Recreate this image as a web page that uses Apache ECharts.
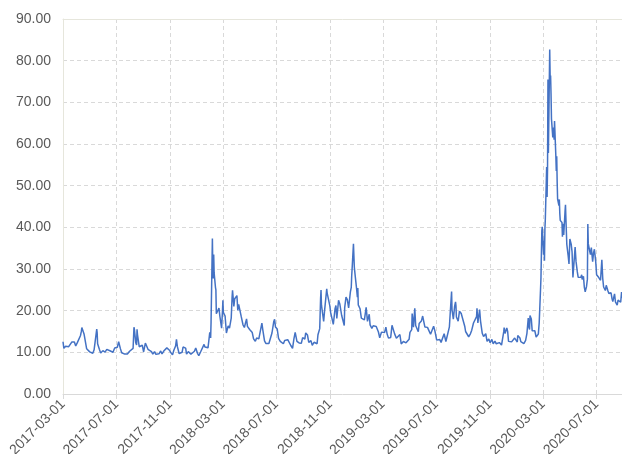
<!DOCTYPE html>
<html>
<head>
<meta charset="utf-8">
<script src="https://cdn.jsdelivr.net/npm/echarts@6/dist/echarts.min.js"></script>
<style>
  html, body { margin: 0; padding: 0; background: #fff; }
  #chart { width: 622px; height: 454px; }
</style>
</head>
<body>
<div id="chart"></div>
<script>
// daily close values (trading days, weekends skipped)
var dates2017 = ['2017-03-01','2017-03-03','2017-03-07','2017-03-10','2017-03-14','2017-03-17','2017-03-21','2017-03-23','2017-03-27','2017-03-30',
  '2017-04-03','2017-04-06','2017-04-10','2017-04-12','2017-04-13','2017-04-18','2017-04-20','2017-04-21','2017-04-24','2017-04-27',
  '2017-05-01','2017-05-04','2017-05-08','2017-05-11','2017-05-15','2017-05-17','2017-05-18','2017-05-19','2017-05-23','2017-05-26','2017-05-31',
  '2017-06-05','2017-06-08','2017-06-09','2017-06-13','2017-06-16','2017-06-20','2017-06-23','2017-06-27','2017-06-29',
  '2017-07-03','2017-07-06','2017-07-10','2017-07-13','2017-07-17','2017-07-20','2017-07-24','2017-07-26','2017-07-31',
  '2017-08-03','2017-08-08','2017-08-09','2017-08-10','2017-08-11','2017-08-14','2017-08-16','2017-08-17','2017-08-18','2017-08-22','2017-08-25','2017-08-29',
  '2017-09-01','2017-09-05','2017-09-08','2017-09-11','2017-09-14','2017-09-19','2017-09-22','2017-09-26','2017-09-29',
  '2017-10-03','2017-10-06','2017-10-10','2017-10-13','2017-10-17','2017-10-20','2017-10-24','2017-10-26','2017-10-30',
  '2017-11-02','2017-11-06','2017-11-09','2017-11-13','2017-11-15','2017-11-17','2017-11-21','2017-11-24','2017-11-28','2017-11-30',
  '2017-12-04','2017-12-06','2017-12-08','2017-12-12','2017-12-14','2017-12-18','2017-12-21','2017-12-26','2017-12-29'];
var vix2017 = [12.54,10.96,11.45,11.66,11.35,11.28,12.47,12.48,12.50,11.54,
  12.38,12.39,14.05,15.07,15.96,14.42,14.15,14.63,10.84,10.36,
  10.11,10.46,9.77,10.60,10.42,15.59,14.66,12.04,10.72,9.81,10.41,
  10.07,10.16,10.70,10.42,10.38,10.86,10.02,11.06,11.44,
  11.22,12.54,10.89,9.90,9.82,9.58,9.43,9.60,10.26,
  9.95,10.96,11.11,16.04,15.51,12.33,11.74,15.55,14.26,11.35,11.28,11.70,
  10.13,12.23,12.12,10.73,10.44,10.18,9.59,10.17,9.51,
  9.51,9.65,10.33,9.61,10.31,10.15,11.07,11.30,10.50,
  9.93,9.40,10.50,11.50,13.13,11.43,9.73,9.67,10.03,11.28,
  11.68,11.02,9.58,10.18,10.49,9.53,9.72,10.25,11.04];

var dates2018 = ['2018-01-02','2018-01-05','2018-01-09','2018-01-12','2018-01-17','2018-01-19','2018-01-23','2018-01-26','2018-01-29','2018-01-30',
  '2018-02-01','2018-02-02','2018-02-05','2018-02-06','2018-02-07','2018-02-08','2018-02-09','2018-02-12','2018-02-13','2018-02-14','2018-02-16','2018-02-20','2018-02-22','2018-02-26','2018-02-28',
  '2018-03-01','2018-03-02','2018-03-06','2018-03-09','2018-03-13','2018-03-16','2018-03-20','2018-03-22','2018-03-23','2018-03-26','2018-03-28',
  '2018-04-02','2018-04-04','2018-04-06','2018-04-09','2018-04-12','2018-04-16','2018-04-19','2018-04-24','2018-04-26',
  '2018-05-01','2018-05-03','2018-05-07','2018-05-10','2018-05-14','2018-05-17','2018-05-22','2018-05-25','2018-05-29','2018-05-31',
  '2018-06-04','2018-06-07','2018-06-11','2018-06-14','2018-06-18','2018-06-21','2018-06-25','2018-06-27','2018-06-29',
  '2018-07-03','2018-07-06','2018-07-10','2018-07-13','2018-07-17','2018-07-20','2018-07-24','2018-07-27','2018-07-31',
  '2018-08-03','2018-08-07','2018-08-10','2018-08-13','2018-08-15','2018-08-17','2018-08-22','2018-08-27','2018-08-30',
  '2018-09-04','2018-09-06','2018-09-10','2018-09-13','2018-09-18','2018-09-21','2018-09-25','2018-09-28',
  '2018-10-02','2018-10-04','2018-10-08','2018-10-09','2018-10-10','2018-10-11','2018-10-12','2018-10-15','2018-10-17','2018-10-19','2018-10-22','2018-10-24','2018-10-25','2018-10-26','2018-10-29','2018-10-31',
  '2018-11-02','2018-11-05','2018-11-08','2018-11-12','2018-11-14','2018-11-16','2018-11-20','2018-11-23','2018-11-27','2018-11-29',
  '2018-12-03','2018-12-04','2018-12-07','2018-12-10','2018-12-13','2018-12-17','2018-12-19','2018-12-20','2018-12-21','2018-12-24','2018-12-26','2018-12-27','2018-12-28','2018-12-31'];
var vix2018 = [9.77,9.22,10.08,10.16,11.91,11.27,11.10,11.08,13.84,14.79,
  13.47,17.31,37.32,29.98,27.73,33.46,29.06,25.61,24.97,19.26,19.46,20.60,18.72,15.80,19.85,
  22.47,19.59,18.73,14.64,16.35,15.80,18.20,23.34,24.87,21.03,22.87,
  23.62,20.06,21.49,21.77,18.49,16.56,15.96,18.02,16.24,
  15.49,15.90,14.75,13.23,12.65,13.43,13.22,13.22,17.02,15.43,
  12.74,12.13,12.35,12.12,12.31,14.64,17.33,17.91,16.09,
  15.60,13.37,12.64,12.18,12.06,12.86,12.41,13.03,12.83,
  11.64,10.93,13.16,14.78,14.64,12.64,12.25,12.16,13.53,
  13.16,14.65,14.16,12.37,12.79,11.68,12.42,12.12,
  12.05,14.22,15.69,15.95,22.96,24.98,21.31,21.30,17.40,19.89,19.64,25.23,24.22,24.16,24.70,21.23,
  19.51,19.96,16.72,20.45,21.25,18.14,22.48,21.52,18.90,18.79,
  16.44,20.74,23.23,22.64,20.65,24.52,25.58,28.38,30.11,36.07,30.41,29.96,28.34,25.42];

var dates2019 = ['2019-01-02','2019-01-03','2019-01-04','2019-01-08','2019-01-11','2019-01-15','2019-01-18','2019-01-22','2019-01-25','2019-01-29','2019-01-31',
  '2019-02-04','2019-02-07','2019-02-11','2019-02-14','2019-02-19','2019-02-22','2019-02-26',
  '2019-03-01','2019-03-05','2019-03-08','2019-03-11','2019-03-14','2019-03-19','2019-03-22','2019-03-25','2019-03-28',
  '2019-04-01','2019-04-04','2019-04-09','2019-04-12','2019-04-17','2019-04-23','2019-04-26','2019-04-30',
  '2019-05-02','2019-05-06','2019-05-07','2019-05-09','2019-05-10','2019-05-13','2019-05-15','2019-05-17','2019-05-21','2019-05-23','2019-05-28','2019-05-31',
  '2019-06-03','2019-06-05','2019-06-07','2019-06-11','2019-06-14','2019-06-18','2019-06-20','2019-06-25','2019-06-28',
  '2019-07-02','2019-07-05','2019-07-09','2019-07-12','2019-07-16','2019-07-19','2019-07-23','2019-07-26','2019-07-31',
  '2019-08-01','2019-08-02','2019-08-05','2019-08-06','2019-08-07','2019-08-09','2019-08-12','2019-08-14','2019-08-15','2019-08-16','2019-08-20','2019-08-23','2019-08-27','2019-08-30',
  '2019-09-04','2019-09-06','2019-09-10','2019-09-13','2019-09-17','2019-09-20','2019-09-24','2019-09-27',
  '2019-10-01','2019-10-02','2019-10-04','2019-10-08','2019-10-10','2019-10-14','2019-10-17','2019-10-22','2019-10-25','2019-10-29',
  '2019-11-01','2019-11-05','2019-11-08','2019-11-12','2019-11-15','2019-11-19','2019-11-22','2019-11-27',
  '2019-12-02','2019-12-03','2019-12-05','2019-12-09','2019-12-11','2019-12-13','2019-12-17','2019-12-20','2019-12-24','2019-12-27','2019-12-31'];
var vix2019 = [23.22,25.45,21.38,20.47,18.19,18.60,17.80,20.80,17.42,19.13,16.57,
  15.73,16.37,15.97,16.22,14.88,13.51,14.85,
  14.63,14.74,16.05,14.33,13.41,13.56,16.48,16.33,14.43,
  13.40,13.58,14.28,12.01,12.60,12.28,12.73,13.12,
  14.80,15.44,19.32,19.10,16.04,20.55,16.44,15.96,14.95,16.92,17.50,18.71,
  18.86,16.09,16.30,15.99,15.28,14.33,14.75,16.28,15.08,
  12.93,13.28,13.08,12.39,12.86,14.45,12.61,12.16,16.12,
  17.87,17.61,24.59,20.17,19.49,17.97,21.09,22.10,21.18,18.47,17.50,19.87,19.32,18.98,
  16.27,15.00,15.20,13.74,14.44,15.32,17.05,17.22,
  18.56,20.56,17.04,20.28,17.57,14.57,13.79,14.46,12.65,13.20,
  12.30,13.10,12.07,12.68,12.05,12.46,12.34,11.75,
  14.91,15.96,14.52,15.86,14.99,12.63,12.29,12.51,12.67,13.43,13.78];

var dates2020 = ['2020-01-02','2020-01-03','2020-01-06','2020-01-08','2020-01-10','2020-01-14','2020-01-17','2020-01-21','2020-01-23','2020-01-24','2020-01-27','2020-01-28','2020-01-30','2020-01-31',
  '2020-02-03','2020-02-05','2020-02-07','2020-02-11','2020-02-14','2020-02-19','2020-02-21','2020-02-24','2020-02-25','2020-02-26','2020-02-27','2020-02-28',
  '2020-03-02','2020-03-03','2020-03-04','2020-03-05','2020-03-06','2020-03-09','2020-03-10','2020-03-11','2020-03-12','2020-03-13','2020-03-16','2020-03-17','2020-03-18','2020-03-19','2020-03-20',
  '2020-03-23','2020-03-24','2020-03-25','2020-03-26','2020-03-27','2020-03-30','2020-03-31',
  '2020-04-01','2020-04-02','2020-04-03','2020-04-06','2020-04-07','2020-04-08','2020-04-09','2020-04-13','2020-04-14','2020-04-15','2020-04-16','2020-04-17','2020-04-20','2020-04-21','2020-04-22','2020-04-24','2020-04-27','2020-04-29',
  '2020-05-01','2020-05-04','2020-05-06','2020-05-08','2020-05-11','2020-05-13','2020-05-15','2020-05-18','2020-05-20','2020-05-22','2020-05-26','2020-05-28','2020-05-29',
  '2020-06-01','2020-06-03','2020-06-05','2020-06-08','2020-06-10','2020-06-11','2020-06-12','2020-06-15','2020-06-17','2020-06-19','2020-06-22','2020-06-24','2020-06-26','2020-06-29',
  '2020-07-01','2020-07-06','2020-07-08','2020-07-10','2020-07-13','2020-07-15','2020-07-17','2020-07-21','2020-07-23','2020-07-27','2020-07-29','2020-07-31',
  '2020-08-03','2020-08-05','2020-08-07','2020-08-11','2020-08-13','2020-08-17','2020-08-19','2020-08-21','2020-08-25','2020-08-27','2020-08-28'];
var vix2020 = [12.47,14.02,13.85,13.45,12.56,12.39,12.10,12.85,12.98,14.56,18.23,16.28,15.49,18.84,
  17.97,15.15,15.47,15.18,13.68,14.38,17.08,25.03,27.85,27.56,39.16,40.11,
  33.42,36.82,31.99,39.62,41.94,54.46,47.30,53.90,75.47,57.83,82.69,75.91,76.45,72.00,66.04,
  61.59,61.67,63.95,61.00,65.54,57.08,53.54,
  57.06,50.91,46.80,45.24,46.70,43.35,41.67,41.17,37.76,40.84,40.11,38.15,43.83,45.41,41.98,35.93,33.29,31.23,
  37.19,35.97,34.12,27.98,27.57,35.28,31.89,29.30,27.99,28.16,28.01,28.59,27.51,
  28.23,25.66,24.52,25.81,27.57,40.79,36.09,34.40,33.47,35.12,31.77,33.84,34.73,31.78,
  28.62,27.94,28.08,27.29,32.19,27.76,25.68,24.84,26.08,24.74,24.10,24.46,
  24.28,22.99,22.21,24.03,22.13,21.35,22.54,22.54,22.03,24.47,22.96];

// x axis labels every 4 months
var tickDates = ['2017-03-01','2017-07-01','2017-11-01','2018-03-01','2018-07-01','2018-11-01',
  '2019-03-01','2019-07-01','2019-11-01','2020-03-01','2020-07-01'];

var xStart = '2017-03-01';
var xEnd = '2020-08-28';

var DAY = 86400000;
var t0 = Date.UTC(2017, 2, 1);
// date string -> day number counted from xStart
function toDay(s) {
  var p = s.split('-');
  return Math.round((Date.UTC(+p[0], +p[1] - 1, +p[2]) - t0) / DAY);
}
function pad(n) {
  return n < 10 ? '0' + n : '' + n;
}
function fmtDay(v) {
  var d = new Date(t0 + Math.round(v) * DAY);
  return d.getUTCFullYear() + '-' + pad(d.getUTCMonth() + 1) + '-' + pad(d.getUTCDate());
}

var allDates = dates2017.concat(dates2018, dates2019, dates2020);
var allVix = vix2017.concat(vix2018, vix2019, vix2020);
var seriesData = allDates.map(function (d, i) {
  return [toDay(d), allVix[i]];
});
var ticks = tickDates.map(toDay);

var gridColor = '#d9d9d9';
var labelColor = '#595959';
var font = '"Liberation Sans", Arial, sans-serif';

var chart = echarts.init(document.getElementById('chart'), null, { renderer: 'canvas' });
chart.setOption({
  animation: false,
  backgroundColor: '#fff',
  grid: { left: 63, right: 0, top: 19, bottom: 60, containLabel: false, outerBoundsMode: 'none' },
  xAxis: [{
    type: 'value',
    min: toDay(xStart),
    max: toDay(xEnd),
    axisLine: { show: true, lineStyle: { color: gridColor, width: 1 } },
    axisTick: { show: true, length: 5, customValues: ticks, lineStyle: { color: gridColor } },
    axisLabel: {
      customValues: ticks,
      rotate: 45,
      margin: 8,
      color: labelColor,
      fontSize: 14,
      fontFamily: font,
      hideOverlap: false,
      showMinLabel: true,
      showMaxLabel: true,
      formatter: function (v) { return fmtDay(v); }
    },
    splitLine: { show: true, lineStyle: { color: gridColor, type: [4, 3], width: 1 } }
  }, {
    // plain top border of the plot area
    type: 'value',
    position: 'top',
    min: toDay(xStart),
    max: toDay(xEnd),
    axisLine: { show: true, lineStyle: { color: '#e6e6dc', width: 1 } },
    axisTick: { show: false },
    axisLabel: { show: false },
    splitLine: { show: false }
  }],
  yAxis: {
    type: 'value',
    min: 0,
    max: 90,
    interval: 10,
    axisLine: { show: true, lineStyle: { color: '#e6e6dc', width: 1 } },
    axisTick: { show: false },
    axisLabel: {
      color: labelColor,
      fontSize: 14,
      fontFamily: font,
      margin: 12,
      formatter: function (v) { return v.toFixed(2); }
    },
    splitLine: { show: true, lineStyle: { color: gridColor, type: [4, 3], width: 1 } }
  },
  series: [{
    type: 'line',
    xAxisIndex: 0,
    data: seriesData,
    showSymbol: false,
    symbol: 'none',
    lineStyle: { color: '#4472c4', width: 1.5 },
    itemStyle: { color: '#4472c4' }
  }]
});
</script>
</body>
</html>
